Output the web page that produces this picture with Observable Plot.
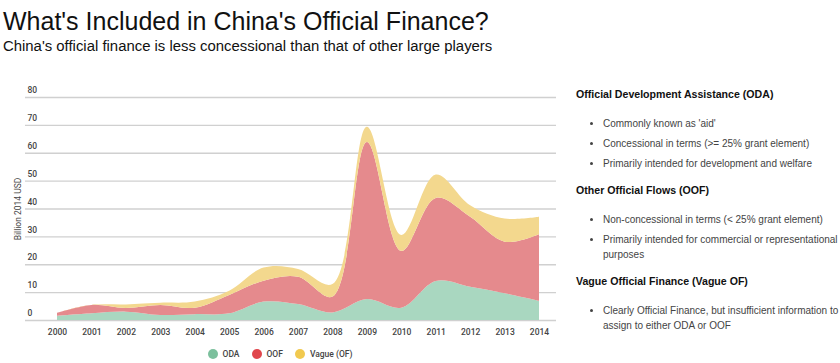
<!DOCTYPE html>
<html>
<head>
<meta charset="utf-8">
<script src="https://cdn.jsdelivr.net/npm/d3@7"></script>
<script src="https://cdn.jsdelivr.net/npm/@observablehq/plot@0.6"></script>
<style>
  html, body { margin: 0; padding: 0; background: #fff; }
  body { width: 840px; height: 363px; overflow: hidden; font-family: "Liberation Sans", Arial, sans-serif; position: relative; }
  #title { position: absolute; left: 3px; top: 7px; font-size: 25px; color: #111; white-space: nowrap; }
  #subtitle { position: absolute; left: 3px; top: 38px; font-size: 14.9px; color: #111; white-space: nowrap; }
  #chart { position: absolute; left: 0; top: 70px; }
  #legend { position: absolute; left: 0; top: 349px; width: 560px; display: flex; justify-content: center; gap: 12px; font-family: Roboto, sans-serif; font-size: 8.5px; font-weight: 500; color: #444; }
  #legend span.item { display: inline-flex; align-items: center; gap: 5px; }
  #legend span.dot { width: 10px; height: 10px; border-radius: 50%; display: inline-block; }
  #panel { position: absolute; left: 576px; top: 88px; width: 264px; font-family: "Liberation Sans", Arial, sans-serif; font-size: 10px; color: #444; }
  #panel h4 { margin: 0 0 15px 0; font-size: 10.6px; line-height: 13px; font-weight: bold; color: #111; }
  #panel ul { margin: 0 0 13px 0; padding-left: 27px; }
  #panel li { line-height: 15px; margin-bottom: 5px; white-space: pre; }
</style>
</head>
<body>
<div id="title">What's Included in China's Official Finance?</div>
<div id="subtitle">China's official finance is less concessional than that of other large players</div>
<div id="chart"></div>
<div id="legend"></div>
<div id="panel"></div>
<script>
const years = [2000, 2001, 2002, 2003, 2004, 2005, 2006, 2007, 2008, 2009, 2010, 2011, 2012, 2013, 2014];
const seriesNames = ["ODA", "OOF", "Vague (OF)"];
const oda   = [1.5, 2.4, 3.0, 1.8, 2.1, 2.4, 6.6, 5.7, 2.7, 7.5, 4.4, 14.0, 11.9, 9.6, 6.9];
const oof   = [1.1, 3.0, 1.3, 3.6, 2.3, 6.6, 7.5, 9.8, 5.7, 56.4, 20.4, 29.8, 25.1, 18.5, 23.9];
const vague = [0.0, 0.0, 1.3, 0.8, 2.2, 1.5, 4.7, 2.8, 4.5, 5.4, 5.7, 8.4, 4.2, 8.3, 6.2];
const yTicks = [0, 10, 20, 30, 40, 50, 60, 70, 80];
const areaColors = ["#a9d7c0", "#e58a8d", "#f3d88e"];
const dotColors = ["#7cc09d", "#e0464c", "#f1c94f"];
const yLabel = "Billion 2014 USD";

const valuesBySeries = [oda, oof, vague];
const data = [];
seriesNames.forEach((s, si) => years.forEach((y, i) => data.push({year: y, series: s, value: valuesBySeries[si][i]})));

const chart = Plot.plot({
  width: 560,
  height: 273,
  marginLeft: 25,
  marginRight: 4,
  marginTop: 27,
  marginBottom: 23,
  insetLeft: 32,
  insetRight: 17,
  style: {fontFamily: "Roboto, sans-serif", background: "transparent"},
  x: {type: "linear", domain: [2000, 2014], axis: null, label: null},
  y: {domain: [0, 80], axis: null, label: null},
  color: {domain: seriesNames, range: areaColors},
  marks: [
    Plot.gridY(yTicks, {stroke: "#d0d0d0", strokeOpacity: 1, strokeWidth: 1.3}),
    Plot.areaY(data, {x: "year", y: "value", z: "series", fill: "series", fillOpacity: 1, curve: "catmull-rom", order: seriesNames}),
    Plot.text(yTicks, {y: d => d, text: d => String(d), frameAnchor: "left", textAnchor: "start", dx: 2, dy: -7, fontSize: 8.5, fontWeight: 500, fill: "#444"}),
    Plot.axisX(years, {tickSize: 0, tickPadding: 8, tickFormat: d => String(d), fontSize: 8.5, fontWeight: 500, fill: "#444", label: null}),
    Plot.text([yLabel], {frameAnchor: "left", textAnchor: "middle", rotate: -90, dx: -7, dy: 0, fontSize: 8.5, fill: "#444", text: d => d})
  ]
});
document.getElementById("chart").appendChild(chart);

const legend = document.getElementById("legend");
seriesNames.forEach((s, i) => {
  const item = document.createElement("span");
  item.className = "item";
  const dot = document.createElement("span");
  dot.className = "dot";
  dot.style.background = dotColors[i];
  item.appendChild(dot);
  item.appendChild(document.createTextNode(s));
  legend.appendChild(item);
});

const panelSections = [
  {head: "Official Development Assistance (ODA)", items: ["Commonly known as 'aid'", "Concessional in terms (>= 25% grant element)", "Primarily intended for development and welfare"]},
  {head: "Other Official Flows (OOF)", items: ["Non-concessional in terms (< 25% grant element)", "Primarily intended for commercial or representational\npurposes"]},
  {head: "Vague Official Finance (Vague OF)", items: ["Clearly Official Finance, but insufficient information to\nassign to either ODA or OOF"]}
];
const panel = document.getElementById("panel");
panelSections.forEach(sec => {
  const h = document.createElement("h4");
  h.textContent = sec.head;
  panel.appendChild(h);
  const ul = document.createElement("ul");
  sec.items.forEach(t => { const li = document.createElement("li"); li.textContent = t; ul.appendChild(li); });
  panel.appendChild(ul);
});
</script>
</body>
</html>
